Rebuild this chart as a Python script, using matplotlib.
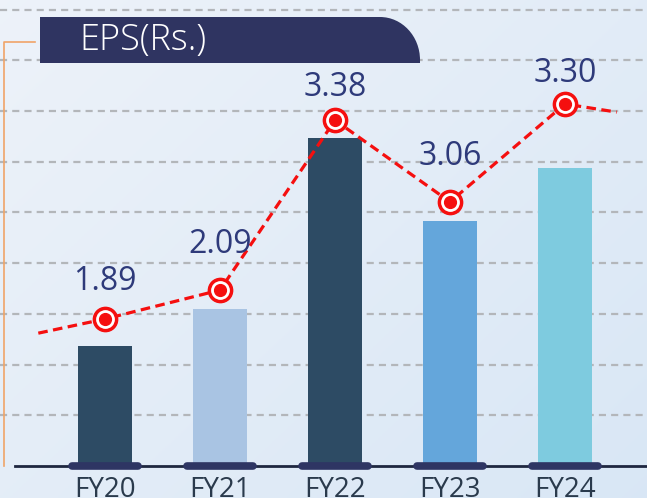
import numpy as np
import matplotlib.pyplot as plt
from matplotlib.path import Path
from matplotlib.patches import PathPatch

plt.rcParams['font.family'] = ['Open Sans', 'DejaVu Sans']

# Veriler (grid birimi cinsinden okunan yükseklikler)
years = ["FY20", "FY21", "FY22", "FY23", "FY24"]
eps_labels = ["1.89", "2.09", "3.38", "3.06", "3.30"]
bar_heights = [2.37, 3.10, 6.47, 4.83, 5.88]
trend_levels = [2.90, 3.47, 6.82, 5.21, 7.14]
trend_start = 2.62
trend_end = 6.98
bar_colors = ["#2d4b64", "#a9c4e3", "#2d4b64", "#64a6db", "#7ecbdf"]

# etiketlerin işaretçiden yukarı kayması (piksel)
label_offsets = [37, 46, 33, 45, 31]

W, H = 647, 498
fig = plt.figure(figsize=(W / 100, H / 100), dpi=100)

# arka plan gradyanı
bg = fig.add_axes([0, 0, 1, 1], zorder=0)
gx = np.linspace(0, 1, 200)
gy = np.linspace(0, 1, 200)
GX, GY = np.meshgrid(gx, gy)
c1 = np.array([0.930, 0.950, 0.978])
c2 = np.array([0.850, 0.905, 0.962])
t = np.clip(0.55 * GX + 0.45 * GY, 0, 1)[..., None]
bg.imshow(c1 * (1 - t) + c2 * t, aspect="auto", extent=[0, 1, 0, 1], origin="upper")
bg.axis("off")

ax = fig.add_axes([0, 0, 1, 1], zorder=1)
ax.patch.set_alpha(0)
ax.set_xlim(-105 / 115, (W - 105) / 115)
ax.set_ylim(-(H - 466) / 50.7, 466 / 50.7)
ax.axis("off")

x = np.arange(len(years))

# yatay kesikli çizgiler
for g in range(1, 10):
    ax.axhline(g, color="#b3b6ba", lw=1.6, ls=(0, (3.2, 2.3)), zorder=1)

# barlar
ax.bar(x, bar_heights, width=0.47, color=bar_colors, zorder=2)

# taban çizgisi + hap şekilleri
ax.plot([-0.78, 5], [0, 0], color="#1e2740", lw=2, zorder=3)
for xi in x:
    ax.plot([xi - 0.29, xi + 0.29], [0, 0], color="#2e3563", lw=5.5,
            solid_capstyle="round", zorder=4)

# kırmızı kesikli trend çizgisi
lx = np.concatenate([[-0.58], x, [4.45]])
ly = np.concatenate([[trend_start], trend_levels, [trend_end]])
ax.plot(lx, ly, color="#f50f0f", lw=2.3, ls=(0, (3.0, 1.7)), zorder=5)
ax.plot(x, trend_levels, "o", ms=17.5, mfc="#f50f0f", mec="#f50f0f", zorder=6)
ax.plot(x, trend_levels, "o", ms=12.5, mfc="white", mec="white", zorder=7)
ax.plot(x, trend_levels, "o", ms=8.5, mfc="#f50f0f", mec="#f50f0f", zorder=8)

for xi, yi, lab, off in zip(x, trend_levels, eps_labels, label_offsets):
    ax.annotate(lab, (xi, yi), xytext=(0, off * 0.72), textcoords="offset points",
                ha="center", va="center", fontsize=23, color="#2e3a7a", zorder=9)

for xi, lab in zip(x, years):
    ax.text(xi, -0.61, lab, ha="center", va="baseline", fontsize=20,
            color="#2a3a4c", zorder=9)

# başlık kutusu ve turuncu çizgi (piksel koordinatları)
ov = fig.add_axes([0, 0, 1, 1], zorder=2)
ov.patch.set_alpha(0)
ov.set_xlim(0, W)
ov.set_ylim(H, 0)
ov.axis("off")

k = 0.5523
verts = [(40, 63), (40, 17), (380, 17),
         (380 + 40 * k, 17), (420, 60 - 43 * k), (420, 60),
         (420, 63), (40, 63)]
codes = [Path.MOVETO, Path.LINETO, Path.LINETO,
         Path.CURVE4, Path.CURVE4, Path.CURVE4,
         Path.LINETO, Path.CLOSEPOLY]
ov.add_patch(PathPatch(Path(verts, codes), facecolor="#2f3461", edgecolor="none"))
ov.text(79, 50, "EPS(Rs.)", color="white", fontsize=26, fontweight="light",
        ha="left", va="baseline")
ov.plot([35, 4, 4], [42, 42, 466], color="#f0a468", lw=1.2)

fig.savefig("out.png", dpi=100)
